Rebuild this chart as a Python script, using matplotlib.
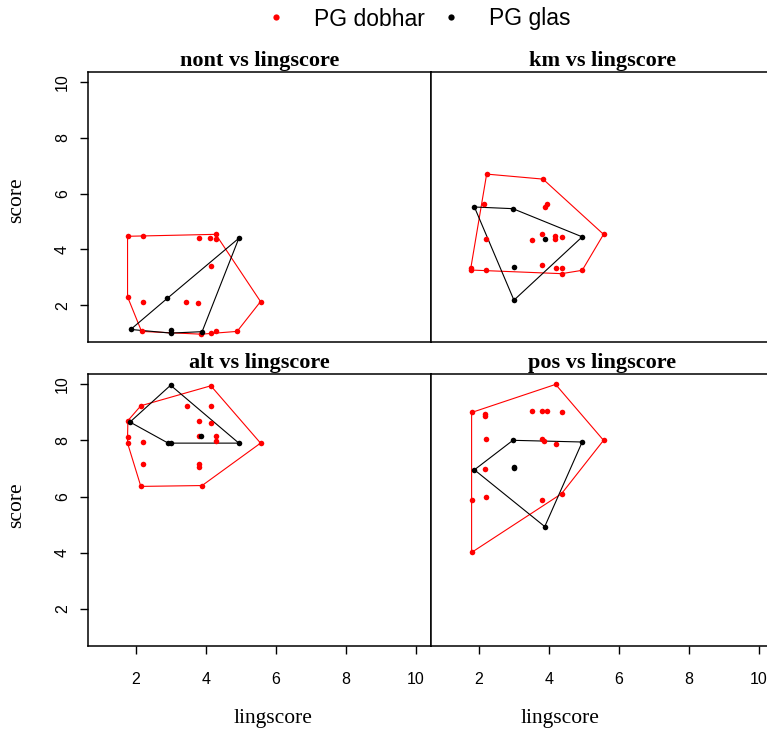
import numpy as np
import matplotlib
matplotlib.use("Agg")
import matplotlib.pyplot as plt
from matplotlib.lines import Line2D

# lingscore / score pairs for each panel, split by group
nont_dobhar_x = [1.76, 1.76, 2.19, 2.19, 2.16, 3.44, 3.78, 3.79, 3.87, 4.11, 4.14, 4.14, 4.28, 4.30, 4.30, 4.89, 5.56]
nont_dobhar_y = [4.47, 2.30, 4.47, 2.13, 1.06, 2.13, 2.07, 4.42, 0.96, 4.42, 3.40, 1.00, 4.54, 4.36, 1.06, 1.06, 2.13]
nont_glas_x = [1.85, 2.90, 2.99, 2.99, 3.89, 4.94]
nont_glas_y = [1.13, 2.25, 1.10, 1.00, 1.05, 4.40]

km_dobhar_x = [2.22, 3.83, 2.15, 3.90, 3.95, 5.56, 2.20, 3.51, 3.81, 4.17, 4.17, 4.36, 1.77, 1.77, 2.20, 3.81, 4.19, 4.36, 4.36, 4.95]
km_dobhar_y = [6.70, 6.52, 5.61, 5.53, 5.61, 4.54, 4.36, 4.32, 4.54, 4.48, 4.36, 4.46, 3.35, 3.26, 3.25, 3.43, 3.32, 3.32, 3.13, 3.25]
km_glas_x = [1.87, 2.97, 4.95, 3.90, 3.01, 3.00]
km_glas_y = [5.52, 5.46, 4.45, 4.36, 3.37, 2.18]

alt_dobhar_x = [4.14, 2.14, 3.46, 4.14, 3.79, 4.14, 1.77, 1.76, 1.76, 2.19, 3.79, 4.30, 4.30, 5.56, 2.19, 3.79, 3.79, 2.14, 3.89]
alt_dobhar_y = [9.94, 9.23, 9.23, 9.23, 8.68, 8.63, 8.70, 8.12, 7.90, 7.94, 8.15, 8.15, 7.96, 7.90, 7.14, 7.14, 7.05, 6.36, 6.39]
alt_glas_x = [2.99, 1.83, 2.92, 3.00, 3.87, 4.94]
alt_glas_y = [9.96, 8.65, 7.90, 7.90, 8.15, 7.90]

pos_dobhar_x = [4.19, 1.79, 2.17, 2.18, 3.51, 3.81, 3.93, 4.36, 2.20, 3.81, 3.86, 4.19, 5.56, 2.18, 1.79, 2.20, 3.81, 4.36, 1.79]
pos_dobhar_y = [9.99, 8.99, 8.95, 8.86, 9.05, 9.05, 9.05, 8.99, 8.04, 8.06, 7.96, 7.88, 8.00, 6.99, 5.86, 5.98, 5.88, 6.10, 4.01]
pos_glas_x = [1.87, 2.97, 3.00, 3.00, 4.95, 3.88]
pos_glas_y = [6.95, 8.00, 7.01, 7.05, 7.94, 4.93]

panel_titles = ["nont vs lingscore", "km vs lingscore", "alt vs lingscore", "pos vs lingscore"]
group_names = ["PG dobhar", "PG glas"]
group_colors = ["#ff0000", "#000000"]
ticks = [2, 4, 6, 8, 10]


def convex_hull(xs, ys):
    pts = sorted(set(zip(xs, ys)))
    if len(pts) < 3:
        return pts

    def cross(o, a, b):
        return (a[0] - o[0]) * (b[1] - o[1]) - (a[1] - o[1]) * (b[0] - o[0])

    lower, upper = [], []
    for p in pts:
        while len(lower) >= 2 and cross(lower[-2], lower[-1], p) <= 0:
            lower.pop()
        lower.append(p)
    for p in reversed(pts):
        while len(upper) >= 2 and cross(upper[-2], upper[-1], p) <= 0:
            upper.pop()
        upper.append(p)
    hull = lower[:-1] + upper[:-1]
    return hull + [hull[0]]


W, H = 767, 731
fig = plt.figure(figsize=(W / 100, H / 100), dpi=100)
serif = "Liberation Serif"
sans = "Liberation Sans"

# panel boxes in pixels: left, top, right, bottom
boxes = [(88, 72, 431, 342), (431, 72, 774, 342),
         (88, 374, 431, 646), (431, 374, 774, 646)]
panels = [
    (nont_dobhar_x, nont_dobhar_y, nont_glas_x, nont_glas_y),
    (km_dobhar_x, km_dobhar_y, km_glas_x, km_glas_y),
    (alt_dobhar_x, alt_dobhar_y, alt_glas_x, alt_glas_y),
    (pos_dobhar_x, pos_dobhar_y, pos_glas_x, pos_glas_y),
]

for i, ((l, t, r, b), data) in enumerate(zip(boxes, panels)):
    ax = fig.add_axes([l / W, (H - b) / H, (r - l) / W, (b - t) / H])
    ax.set_xlim(0.63, 10.43)
    ax.set_ylim(0.68, 10.36)
    for s in ax.spines.values():
        s.set_linewidth(1.1)
    groups = [(data[0], data[1]), (data[2], data[3])]
    for (gx, gy), col in zip(groups, group_colors):
        hull = convex_hull(gx, gy)
        hx, hy = zip(*hull)
        ax.plot(hx, hy, color=col, lw=0.8, zorder=2)
        ax.plot(gx, gy, "o", color=col, ms=4.0, mec="none", zorder=3)
    ax.set_xticks(ticks)
    ax.set_yticks(ticks)
    ax.tick_params(direction="out", length=6, width=1.0)
    if i < 2:
        ax.tick_params(axis="x", bottom=False, labelbottom=False)
    else:
        ax.set_xticklabels([str(v) for v in ticks], fontsize=11.5, family=sans)
        ax.tick_params(axis="x", pad=13)
    if i % 2 == 1:
        ax.tick_params(axis="y", left=False, labelleft=False)
    else:
        ax.set_yticklabels([str(v) for v in ticks], fontsize=11.5, family=sans,
                           rotation=90, va="center")
        ax.tick_params(axis="y", pad=7)
    fig.text((l + r) / 2 / W, 1 - (t - 11) / H, panel_titles[i],
             ha="center", va="center", fontsize=16, fontweight="bold",
             family=serif)

# axis labels
for cx in (273, 560):
    fig.text(cx / W, 1 - 718 / H, "lingscore", ha="center", va="center",
             fontsize=15.5, family=serif)
for cy in (200, 505):
    fig.text(17 / W, 1 - cy / H, "score", ha="center", va="center",
             rotation=90, fontsize=15.5, family=serif)

handles = [Line2D([], [], marker="o", ls="none", color=c, ms=4.5, mec="none")
           for c in group_colors]
fig.legend(handles, group_names, loc="center", bbox_to_anchor=(415 / W, 1 - 19 / H),
           ncol=2, frameon=False, prop={"family": sans, "size": 16.5},
           handletextpad=0.9, columnspacing=0.4, handlelength=1.5)

fig.savefig("out.png", dpi=100)
